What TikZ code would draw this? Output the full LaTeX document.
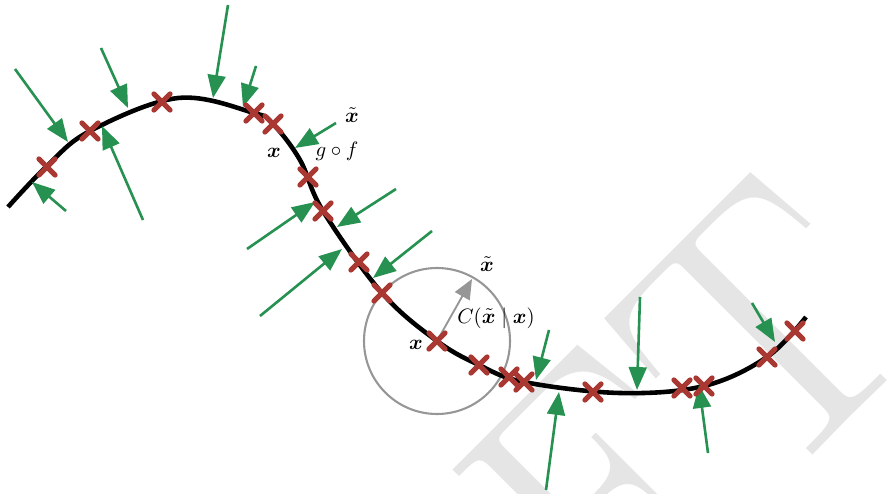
\documentclass[tikz,border=0pt]{standalone}
\usepackage{bm}
\usetikzlibrary{arrows.meta,shapes.misc}
\definecolor{dgreen}{RGB}{38,145,80}
\definecolor{dred}{RGB}{170,56,50}
\definecolor{wmgray}{RGB}{229,229,229}
\definecolor{cgray}{RGB}{150,150,150}
\begin{document}
\begin{tikzpicture}[x=0.48pt,y=-0.48pt,
  xmark/.style={draw=dred, cross out, line width=2.4pt, line cap=round, minimum size=5.4pt, inner sep=0pt},
  garrow/.style={draw=dgreen, line width=1.25pt, -{Triangle[length=11pt,width=8.6pt]}},
  grayarrow/.style={draw=cgray, line width=0.9pt, -{Triangle[length=9.5pt,width=8pt]}},
  curveline/.style={line width=2.2pt, black},
  lbl/.style={inner sep=0pt, font=\normalsize}]
\useasboundingbox (0,0) rectangle (896,494);
% watermark
\begin{scope}
\clip (0,0) rectangle (896,494);
\node[rotate=45, anchor=base east, text=wmgray, font=\fontsize{172}{172}\selectfont, inner sep=0pt] (wmk) at (935,333) {DRAFT};
\end{scope}
% circle
\coordinate (cc) at (437,341);
\draw[cgray, line width=1pt] (cc) circle[radius=73];
% manifold curve
\draw[curveline] plot[smooth, tension=0.6] coordinates {(8,207) (47,166) (90,131) (178,98) (254,113) (273,124) (300,160) (323,211) (382,293) (437,341) (479,365) (524,382) (620,393) (704,386) (767,357) (806,317)};
% green arrows
\foreach \n/\sx/\sy/\tx/\ty in {1/15/69/68/142, 2/101/48/128/108, 3/228/5/213/98, 4/256/66/243/107, 5/143/220/102/126, 6/66/211/32/182, 7/336/123/295/148, 8/396/189/337/227, 9/247/249/315/202, 10/432/231/373/278, 11/260/316/342/249, 12/549/330/536/380, 13/640/297/637/390, 14/752/303/775/342, 15/546/490/559/392, 16/708/453/699/385}{
  \coordinate (s\n) at (\sx,\sy);
  \coordinate (t\n) at (\tx,\ty);
  \draw[garrow] (s\n) -- (t\n);
}
% gray arrow
\coordinate (gt) at (472,279);
\draw[grayarrow] (cc) -- (gt);
% crosses
\foreach \n/\px/\py in {1/47/167, 2/90/131, 3/162/102, 4/254/113, 5/273/124, 6/308/177, 7/323/211, 8/359/262, 9/382/293, 10/437/341, 11/479/365, 12/509/377, 13/524/382, 14/593/392, 15/682/388, 16/704/386, 17/767/357, 18/795/331}{
  \node[xmark] (m\n) at (\px,\py) {};
}
% labels
\node[lbl] (xt1) at (352,115) {$\tilde{\bm x}$};
\node[lbl] (gf) at (337,151) {$g\circ f$};
\node[lbl] (x1) at (274,153) {$\bm x$};
\node[lbl] (xt2) at (487,264) {$\tilde{\bm x}$};
\node[lbl] (cl) at (496,318) {$C(\tilde{\bm x}\mid\bm x)$};
\node[lbl] (x2) at (416,345) {$\bm x$};
\end{tikzpicture}
\end{document}
